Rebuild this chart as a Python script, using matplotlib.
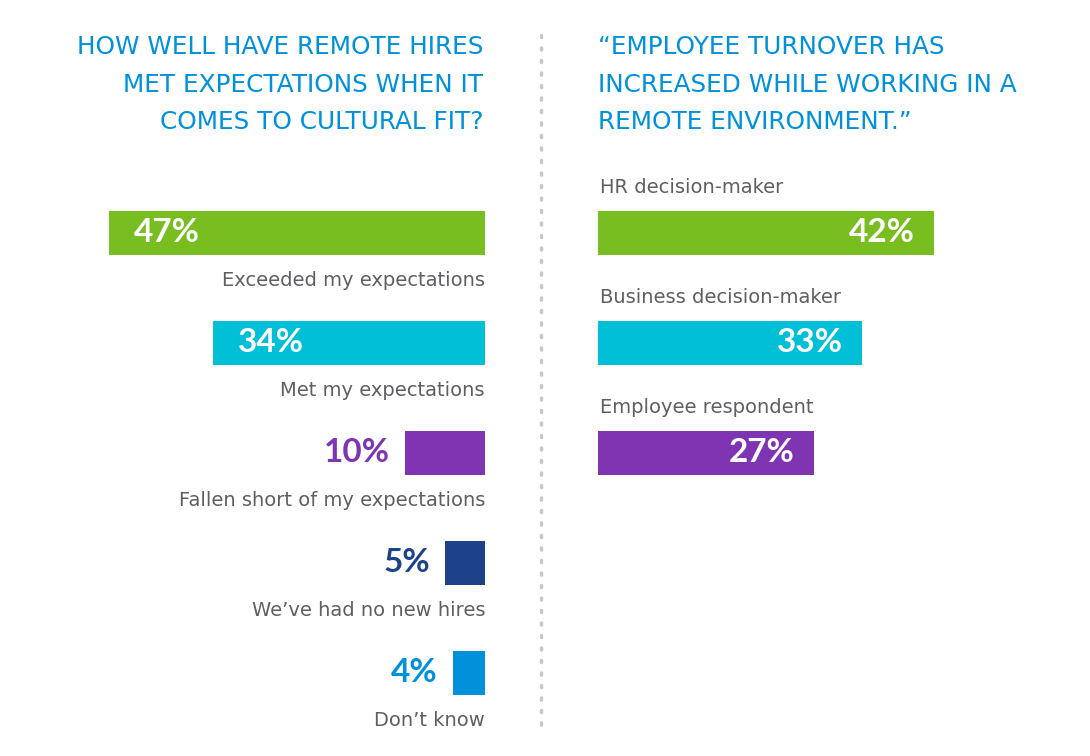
import matplotlib
matplotlib.use("Agg")
import matplotlib.pyplot as plt
from matplotlib.lines import Line2D

W, H = 1090, 756
plt.rcParams["font.family"] = ["DejaVu Sans"]

# --- data ---
left_title = ["HOW WELL HAVE REMOTE HIRES", "MET EXPECTATIONS WHEN IT", "COMES TO CULTURAL FIT?"]
left_labels = ["Exceeded my expectations", "Met my expectations", "Fallen short of my expectations",
               "We\u2019ve had no new hires", "Don\u2019t know"]
left_values = [47, 34, 10, 5, 4]
left_colors = ["#78BE20", "#00BFD6", "#7F35B2", "#1D428A", "#0091DA"]

right_title = ["\u201cEMPLOYEE TURNOVER HAS", "INCREASED WHILE WORKING IN A", "REMOTE ENVIRONMENT.\u201d"]
right_labels = ["HR decision-maker", "Business decision-maker", "Employee respondent"]
right_values = [42, 33, 27]
right_colors = ["#78BE20", "#00BFD6", "#7F35B2"]

TITLE_C = "#0091DA"
LABEL_C = "#5f5f63"
PCT_FONT = ["Lato", "DejaVu Sans"]

fig = plt.figure(figsize=(W / 100, H / 100), dpi=100)

# scale: 8 px per percentage point, both panels
PX = 8.0
SPAN = 50
ylim = ((H - 233) / 110, -233 / 110)

def px(x):
    return x / W

axL = fig.add_axes([px(485 - PX * SPAN), 0, px(PX * SPAN), 1])
axL.set_xlim(SPAN, 0)
axR = fig.add_axes([px(598), 0, px(PX * SPAN), 1])
axR.set_xlim(0, SPAN)
for ax in (axL, axR):
    ax.set_ylim(*ylim)
    ax.axis("off")

# left panel: bars grow to the left from a common right edge
axL.barh(range(len(left_values)), left_values, height=0.4, color=left_colors)
for i, (v, lab, c) in enumerate(zip(left_values, left_labels, left_colors)):
    if v > 20:
        axL.annotate(f"{v}%", (v, i), xytext=(18, 0), textcoords="offset points",
                     ha="left", va="center", color="white", fontsize=24,
                     fontweight="bold", family=PCT_FONT)
    else:
        axL.annotate(f"{v}%", (v, i), xytext=(-11, 0), textcoords="offset points",
                     ha="right", va="center", color=c, fontsize=24,
                     fontweight="bold", family=PCT_FONT)
    axL.text(0, i + 0.43, lab, ha="right", va="center", color=LABEL_C, fontsize=14)

# right panel
axR.barh(range(len(right_values)), right_values, height=0.4, color=right_colors)
for i, (v, lab) in enumerate(zip(right_values, right_labels)):
    axR.annotate(f"{v}%", (v, i), xytext=(-14, 0), textcoords="offset points",
                 ha="right", va="center", color="white", fontsize=24,
                 fontweight="bold", family=PCT_FONT)
    axR.text(0.2, i - 0.41, lab, ha="left", va="center", color=LABEL_C, fontsize=14)

# titles
for k, line in enumerate(left_title):
    fig.text(px(483), 1 - (47 + 37.5 * k) / H, line, ha="right", va="center",
             color=TITLE_C, fontsize=17.8)
for k, line in enumerate(right_title):
    fig.text(px(598), 1 - (47 + 37.5 * k) / H, line, ha="left", va="center",
             color=TITLE_C, fontsize=17.8)

# dotted divider
fig.add_artist(Line2D([px(541), px(541)], [1 - 35 / H, 1 - 726 / H], color="#c8c8c8",
                      linewidth=2.5, linestyle=(0, (0.6, 3.0)), solid_capstyle="round",
                      dash_capstyle="round"))

fig.savefig("out.png", dpi=100, facecolor="white")
